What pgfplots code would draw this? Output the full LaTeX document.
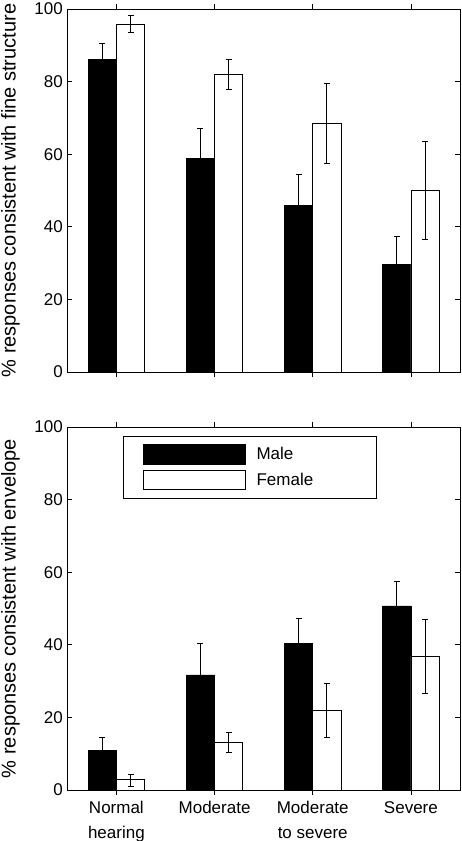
\documentclass[border=0pt]{standalone}
\usepackage{pgfplots}
\pgfplotsset{compat=1.18}
\usepackage{fontspec}
\setmainfont{Liberation Sans}

\pgfplotstableread{
x y ep em
0 86.0 4.5 0
1 58.8 8.4 0
2 45.8 8.7 0
3 29.6 7.8 0
}\topmale
\pgfplotstableread{
x y ep em
0 95.8 2.4 2.3
1 82.1 4.0 4.2
2 68.5 10.9 10.9
3 50.0 13.5 13.5
}\topfemale
\pgfplotstableread{
x y ep em
0 10.9 3.6 0
1 31.7 8.7 0
2 40.3 6.9 0
3 50.7 6.7 0
}\botmale
\pgfplotstableread{
x y ep em
0 2.8 1.5 1.7
1 13.1 2.7 2.8
2 22.0 7.4 7.6
3 36.9 10.2 10.3
}\botfemale

\pgfplotsset{
  myaxis/.style={
    anchor=south west,
    scale only axis, width=392.7pt, height=363pt,
    xmin=-0.5, xmax=3.5, ymin=0, ymax=100,
    xtick={0,1,2,3}, ytick={0,20,40,60,80,100},
    tick align=inside, major tick length=5pt,
    axis line style={line width=0.8pt},
    every tick/.style={line width=0.8pt, black},
    /pgf/number format/assume math mode=true,
    tick label style={font=\fontsize{17}{20}\selectfont},
    yticklabel style={inner sep=0pt, xshift=-4.3pt},
    ylabel style={font=\fontsize{20}{24}\selectfont, at={(axis description cs:-0.1446,0.5)}, anchor=center},
    ybar, bar width=0.288,
  },
  malebar/.style={fill=black, draw=black, line width=0.8pt, bar shift=-0.144,
    error bars/.cd, y dir=plus, y explicit,
    error bar style={line width=0.8pt, black},
    error mark options={rotate=90, line width=0.8pt, black, mark size=3pt},
    /pgfplots/.cd},
  femalebar/.style={fill=white, draw=black, line width=0.8pt, bar shift=0.144,
    error bars/.cd, y dir=both, y explicit,
    error bar style={line width=0.8pt, black},
    error mark options={rotate=90, line width=0.8pt, black, mark size=3pt},
    /pgfplots/.cd},
}

\begin{document}
\begin{tikzpicture}[x=1pt,y=1pt]
\path[use as bounding box] (0,0) rectangle (462,841);

\begin{axis}[myaxis, at={(67.3pt,469pt)},
  xticklabels={},
  ylabel={\% responses consistent with fine structure}]
\addplot[malebar] table[x=x, y=y, y error plus=ep, y error minus=em] {\topmale};
\addplot[femalebar] table[x=x, y=y, y error plus=ep, y error minus=em] {\topfemale};
\end{axis}

\begin{axis}[myaxis, at={(67.3pt,51pt)},
  xticklabels={Normal\\hearing, Moderate, Moderate\\to severe, Severe},
  xticklabel style={align=center, font=\fontsize{17}{25}\selectfont, yshift=-3pt},
  ylabel={\% responses consistent with envelope},
  legend style={at={(0.141,0.975)}, anchor=north west, draw=black, line width=0.8pt,
    inner xsep=20pt, inner ysep=8pt, nodes={inner sep=0pt}, row sep=5.5pt, column sep=10.7pt,
    font=\fontsize{17}{20}\selectfont},
  legend cell align=left]
\addplot[legend image code/.code={\draw[fill=black, draw=black, line width=0.8pt] (0pt,-10.05pt) rectangle (102pt,9.25pt);}, malebar] table[x=x, y=y, y error plus=ep, y error minus=em] {\botmale};
\addlegendentry{Male}
\addplot[legend image code/.code={\draw[fill=white, draw=black, line width=0.8pt] (0pt,-10.05pt) rectangle (102pt,9.25pt);}, femalebar] table[x=x, y=y, y error plus=ep, y error minus=em] {\botfemale};
\addlegendentry{Female\hspace*{43pt}}
\end{axis}
\end{tikzpicture}
\end{document}
